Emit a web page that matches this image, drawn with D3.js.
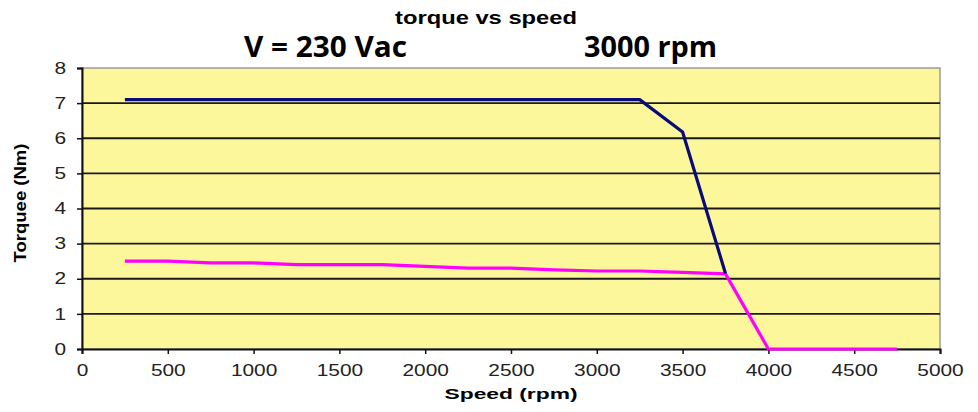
<!DOCTYPE html>
<html><head><meta charset="utf-8">
<script src="https://cdn.jsdelivr.net/npm/d3@7"></script>
<style>body{margin:0;background:#fff;} svg{display:block;}</style>
</head><body>
<script>
const speeds = [250,500,750,1000,1250,1500,1750,2000,2250,2500,2750,3000,3250,3500,3750,4000,4250,4500,4750];
const blueSpeeds = [250,500,750,1000,1250,1500,1750,2000,2250,2500,2750,3000,3250,3500,3750];
const blueTorque = [7.1,7.1,7.1,7.1,7.1,7.1,7.1,7.1,7.1,7.1,7.1,7.1,7.1,6.18,2.15];
const pinkTorque = [2.5,2.5,2.45,2.45,2.4,2.4,2.4,2.35,2.3,2.3,2.25,2.22,2.22,2.18,2.14,0,0,0,0];
const xTicks = [0,500,1000,1500,2000,2500,3000,3500,4000,4500,5000];
const yTicks = [0,1,2,3,4,5,6,7,8];

const W=978,H=412;
const m={l:82,r:38,t:68,b:63};
const FONT="Arial, 'Liberation Sans', sans-serif";
const svg=d3.select("body").append("svg").attr("width",W).attr("height",H);
const x=d3.scaleLinear().domain([0,5000]).range([m.l,W-m.r]);
const y=d3.scaleLinear().domain([0,8]).range([H-m.b,m.t]);

svg.append("rect").attr("x",x(0)).attr("y",y(8)).attr("width",x(5000)-x(0)).attr("height",y(0)-y(8))
  .attr("fill","#fdf79c").attr("stroke","#9a9a9a").attr("stroke-width",1.5);

svg.append("g").selectAll("line").data(yTicks.filter(d=>d>0&&d<8)).join("line")
  .attr("x1",x(0)).attr("x2",x(5000)).attr("y1",d=>y(d)).attr("y2",d=>y(d))
  .attr("stroke","#1a1a1a").attr("stroke-width",1.8);

const xa=svg.append("g").attr("transform",`translate(0,${y(0)})`)
  .call(d3.axisBottom(x).tickValues(xTicks).tickSize(5).tickPadding(11).tickFormat(d3.format("d")));
const ya=svg.append("g").attr("transform",`translate(${x(0)},0)`)
  .call(d3.axisLeft(y).tickValues(yTicks).tickSize(5).tickPadding(11));
[xa,ya].forEach(a=>{
  a.select(".domain").attr("stroke","#111").attr("stroke-width",2);
  a.selectAll(".tick line").attr("stroke","#111").attr("stroke-width",1.5);
  a.selectAll("text").attr("font-family",FONT).attr("font-size",16).attr("fill","#222")
    .attr("textLength",function(){return this.textContent.length*11.6;})
    .attr("lengthAdjust","spacingAndGlyphs");
});

const line=d3.line().x(d=>x(d[0])).y(d=>y(d[1]));
svg.append("path").datum(speeds.map((s,i)=>[s,pinkTorque[i]])).attr("d",line)
  .attr("fill","none").attr("stroke","#ff00ff").attr("stroke-width",3.2).attr("stroke-linejoin","round");
svg.append("path").datum(blueSpeeds.map((s,i)=>[s,blueTorque[i]])).attr("d",line)
  .attr("fill","none").attr("stroke","#0a0a78").attr("stroke-width",3.2).attr("stroke-linejoin","round");

svg.append("text").attr("x",486).attr("y",24).attr("text-anchor","middle")
  .attr("font-family",FONT).attr("font-weight","bold").attr("font-size",18)
  .attr("textLength",182).attr("lengthAdjust","spacingAndGlyphs").text("torque vs speed");
svg.append("text").attr("x",244).attr("y",57)
  .attr("font-family","'Open Sans', sans-serif").attr("font-weight","bold").attr("font-size",28)
  .attr("textLength",163).attr("lengthAdjust","spacingAndGlyphs").text("V = 230 Vac");
svg.append("text").attr("x",584).attr("y",57)
  .attr("font-family","'Open Sans', sans-serif").attr("font-weight","bold").attr("font-size",28)
  .attr("textLength",133).attr("lengthAdjust","spacingAndGlyphs").text("3000 rpm");

svg.append("text").attr("x",511).attr("y",399).attr("text-anchor","middle")
  .attr("font-family",FONT).attr("font-weight","bold").attr("font-size",14.5)
  .attr("textLength",133).attr("lengthAdjust","spacingAndGlyphs").text("Speed (rpm)");
svg.append("text").attr("transform","translate(26,203) rotate(-90)").attr("text-anchor","middle")
  .attr("font-family",FONT).attr("font-weight","bold").attr("font-size",16)
  .attr("textLength",119).attr("lengthAdjust","spacingAndGlyphs").text("Torquee (Nm)");
</script>
</body></html>
